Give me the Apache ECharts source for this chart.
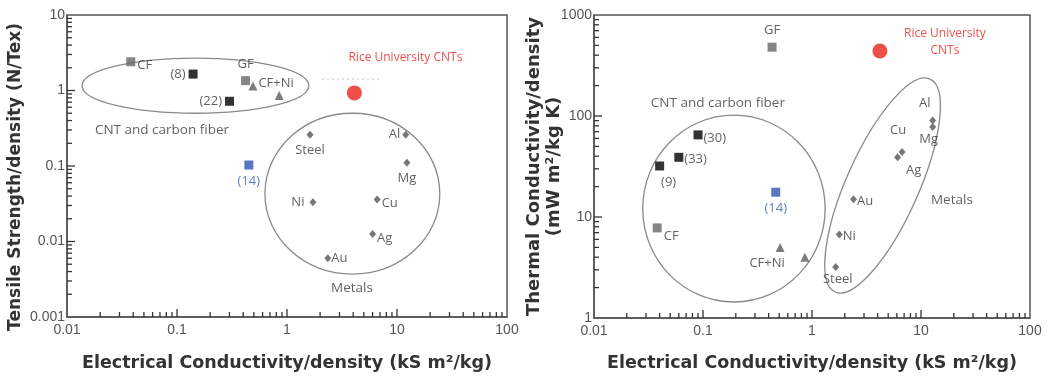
<!DOCTYPE html>
<html>
<head>
<meta charset="utf-8">
<script src="https://cdn.jsdelivr.net/npm/echarts@6/dist/echarts.min.js"></script>
<style>
html,body{margin:0;padding:0;background:#fff;}
#c{width:1047px;height:377px;}
</style>
</head>
<body>
<div id="c"></div>
<script>
// ---------- tick labels ----------
const xTickLabels = ['0.01', '0.1', '1', '10', '100'];
const yTickLabelsL = ['0.001', '0.01', '0.1', '1', '10'];
const yTickLabelsR = ['1', '10', '100', '1000'];
const minorMult = [2, 3, 4, 5, 6, 7, 8, 9];
const decadesX = [0.01, 0.1, 1, 10];
const decadesYL = [0.001, 0.01, 0.1, 1];
const decadesYR = [1, 10, 100];
const majorX = [0.1, 1, 10];
const majorYL = [0.01, 0.1, 1];
const majorYR = [10, 100];

// ---------- left chart: tensile strength / density ----------
const L_grayNames = ['CF', 'GF'];
const L_gray = [[0.038, 2.4], [0.42, 1.35]];
const L_blackNames = ['(8)', '(22)'];
const L_black = [[0.14, 1.65], [0.30, 0.72]];
const L_triNames = ['CF+Ni', ''];
const L_tri = [[0.49, 1.15], [0.85, 0.86]];
const L_blueNames = ['(14)'];
const L_blue = [[0.45, 0.103]];
const L_redNames = ['Rice University CNTs'];
const L_red = [[4.1, 0.93]];
const L_metalNames = ['Steel', 'Al', 'Mg', 'Ni', 'Cu', 'Ag', 'Au'];
const L_metal = [[1.62, 0.26], [12, 0.26], [12.3, 0.11], [1.72, 0.033], [6.6, 0.036], [6.0, 0.0126], [2.35, 0.006]];
const L_dotted = [[2.08, 1.42], [7.3, 1.42]];
// ellipse bounding boxes [xMin, yMin, xMax, yMax]
const L_ellipses = [[0.0137, 0.50, 1.58, 2.69], [0.63, 0.0037, 24.5, 0.50]];
const L_notesText = ['CNT and carbon fiber', 'Metals'];
const L_notes = [[0.073, 0.30], [3.9, 0.0024]];

// ---------- right chart: thermal conductivity / density ----------
const R_grayNames = ['GF', 'CF'];
const R_gray = [[0.43, 480], [0.038, 7.8]];
const R_blackNames = ['(30)', '(33)', '(9)'];
const R_black = [[0.09, 65], [0.06, 39], [0.04, 32]];
const R_triNames = ['CF+Ni', ''];
const R_tri = [[0.51, 5.0], [0.86, 4.0]];
const R_blueNames = ['(14)'];
const R_blue = [[0.465, 17.6]];
const R_redNames = ['Rice University\nCNTs'];
const R_red = [[4.2, 440]];
const R_metalNames = ['Al', 'Mg', 'Cu', 'Ag', 'Au', 'Ni', 'Steel'];
const R_metal = [[12.8, 90], [12.8, 78], [6.7, 44], [6.1, 39], [2.4, 15], [1.78, 6.7], [1.65, 3.2]];
// circle bounding box [xMin, yMin, xMax, yMax]
const R_circle = [[0.028, 1.44, 1.32, 102]];
// tilted ellipse: major axis end points [xTop, yTop, xBottom, yBottom]
const R_tilted = [[12.1, 232, 1.63, 1.81]];
const R_notesText = ['CNT and carbon fiber', 'Metals'];
const R_notes = [[0.137, 134], [19.2, 14.7]];

// ---------- label placement (styles) ----------
const labelPos = {
  L: {
    'CF': {position: 'right', offset: [-1, 4]},
    'GF': {position: 'top', offset: [0, 0]},
    '(8)': {position: 'left', offset: [0, 0]},
    '(22)': {position: 'left', offset: [0, 0]},
    'CF+Ni': {position: 'right', offset: [-2, -3]},
    '(14)': {position: 'bottom', offset: [0, 0]},
    'Rice University CNTs': {position: 'top', offset: [51, -16]},
    'Steel': {position: 'bottom', offset: [0, 0]},
    'Al': {position: 'left', offset: [1, 0]},
    'Mg': {position: 'bottom', offset: [0, 0]},
    'Ni': {position: 'left', offset: [-2, 0]},
    'Cu': {position: 'right', offset: [-2, 4]},
    'Ag': {position: 'right', offset: [-2, 4]},
    'Au': {position: 'right', offset: [-3, 0]}
  },
  R: {
    'GF': {position: 'top', offset: [0, -1]},
    'CF': {position: 'right', offset: [-1, 8]},
    '(30)': {position: 'right', offset: [-2, 3]},
    '(33)': {position: 'right', offset: [-2, 2]},
    '(9)': {position: 'bottom', offset: [9, 0]},
    'CF+Ni': {position: 'bottom', offset: [-13, 0]},
    '(14)': {position: 'bottom', offset: [0, 0]},
    'Rice University\nCNTs': {position: 'top', offset: [65, 19]},
    'Al': {position: 'top', offset: [-8, -2]},
    'Mg': {position: 'bottom', offset: [-4, -3]},
    'Cu': {position: 'top', offset: [-4, -6]},
    'Ag': {position: 'bottom', offset: [16, -3]},
    'Au': {position: 'right', offset: [-3, 2]},
    'Ni': {position: 'right', offset: [-3, 2]},
    'Steel': {position: 'bottom', offset: [2, -3]}
  }
};

const LBL_FONT = '"Open Sans", "Liberation Sans", sans-serif';
const TXT = '#3a3a3a';
const TICK_COLOR = '#333';

function pts(values, names, side, color, fs) {
  return values.map((v, i) => {
    const nm = names[i] || '';
    const p = labelPos[side][nm] || {position: 'right', offset: [0, 0]};
    return {
      value: v, name: nm,
      label: {show: nm !== '', formatter: nm, position: p.position, offset: p.offset,
               distance: 3, color: color || TXT, fontSize: fs || 13, fontFamily: LBL_FONT, lineHeight: 17}
    };
  });
}

function scatter(idx, values, names, side, symbol, size, color, lblColor, fs) {
  return {
    type: 'scatter', xAxisIndex: idx, yAxisIndex: idx, symbol: symbol, symbolSize: size,
    itemStyle: {color: color}, data: pts(values, names, side, lblColor, fs), z: 5, silent: true
  };
}

// log-axis ticks (majors + 2..9 minors of each decade), drawn inward from the axes' origin
function axisTicks(idx, xDecades, yDecades, xMajor, yMajor, origin) {
  const xs = [], ys = [];
  xDecades.forEach(d => minorMult.forEach(m => xs.push([d * m, 5])));
  yDecades.forEach(d => minorMult.forEach(m => ys.push([d * m, 5])));
  xMajor.forEach(v => xs.push([v, 8]));
  yMajor.forEach(v => ys.push([v, 8]));
  return {
    type: 'custom', xAxisIndex: idx, yAxisIndex: idx, silent: true, clip: false, z: 20, zlevel: 1,
    data: [origin],
    renderItem: function (params, api) {
      const ox = api.value(0), oy = api.value(1);
      const children = [];
      xs.forEach(t => {
        const p = api.coord([t[0], oy]);
        children.push({type: 'line', shape: {x1: p[0], y1: p[1], x2: p[0], y2: p[1] - t[1]},
          style: {stroke: TICK_COLOR, lineWidth: 1.3}});
      });
      ys.forEach(t => {
        const p = api.coord([ox, t[0]]);
        children.push({type: 'line', shape: {x1: p[0], y1: p[1], x2: p[0] + t[1], y2: p[1]},
          style: {stroke: TICK_COLOR, lineWidth: 1.3}});
      });
      return {type: 'group', children: children};
    }
  };
}

function bboxEllipses(idx, boxes) {
  return {
    type: 'custom', xAxisIndex: idx, yAxisIndex: idx, silent: true, clip: false, z: 2,
    data: boxes,
    renderItem: function (params, api) {
      const a = api.coord([api.value(0), api.value(1)]);
      const b = api.coord([api.value(2), api.value(3)]);
      return {
        type: 'ellipse',
        shape: {cx: (a[0] + b[0]) / 2, cy: (a[1] + b[1]) / 2, rx: Math.abs(b[0] - a[0]) / 2, ry: Math.abs(b[1] - a[1]) / 2},
        style: {fill: 'none', stroke: '#8a8a8a', lineWidth: 1.3}
      };
    }
  };
}

function tiltedEllipse(idx, axes, ratio) {
  return {
    type: 'custom', xAxisIndex: idx, yAxisIndex: idx, silent: true, clip: false, z: 2,
    data: axes,
    renderItem: function (params, api) {
      const t = api.coord([api.value(0), api.value(1)]);
      const bt = api.coord([api.value(2), api.value(3)]);
      const cx = (t[0] + bt[0]) / 2, cy = (t[1] + bt[1]) / 2;
      const len = Math.hypot(t[0] - bt[0], t[1] - bt[1]) / 2;
      const ang = Math.atan2(t[0] - bt[0], bt[1] - t[1]);
      return {
        type: 'ellipse',
        shape: {cx: 0, cy: 0, rx: len * ratio, ry: len},
        x: cx, y: cy, rotation: -ang,
        style: {fill: 'none', stroke: '#8a8a8a', lineWidth: 1.3}
      };
    }
  };
}

function notes(idx, values, texts) {
  return {
    type: 'scatter', xAxisIndex: idx, yAxisIndex: idx, symbolSize: 1, silent: true,
    itemStyle: {color: 'rgba(0,0,0,0)'},
    data: values.map((v, i) => ({value: v, label: {show: true, formatter: texts[i], position: 'inside',
      color: TXT, fontSize: 13.5, fontFamily: LBL_FONT}}))
  };
}

function tickLabelFmt(labels, minExp) {
  return function (v) {
    const k = Math.round(Math.log10(v)) - minExp;
    return labels[k] !== undefined ? labels[k] : '';
  };
}

const TICK_FONT = '"Liberation Sans", Arial, sans-serif';
const TITLE_FONT = '"DejaVu Sans", "Liberation Sans", sans-serif';
const axisCommon = {
  type: 'log', logBase: 10,
  axisLine: {show: true, lineStyle: {color: '#555', width: 1.5}},
  axisTick: {show: false},
  splitLine: {show: false},
  minorTick: {show: false},
  nameMoveOverlap: false,
  nameTextStyle: {fontFamily: TITLE_FONT, fontWeight: 'bold', fontSize: 17.5, color: '#333'}
};

const xTitle = 'Electrical Conductivity/density (kS m²/kg)';

const option = {
  animation: false,
  backgroundColor: '#fff',
  grid: [
    {left: 67, right: 540, top: 15, bottom: 60, show: true, borderColor: '#555', borderWidth: 1.5, backgroundColor: 'transparent'},
    {left: 594, right: 17, top: 15, bottom: 58, show: true, borderColor: '#555', borderWidth: 1.5, backgroundColor: 'transparent'}
  ],
  xAxis: [
    Object.assign({}, axisCommon, {gridIndex: 0, min: 0.01, max: 100, name: xTitle, nameLocation: 'middle', nameGap: 37,
      axisLabel: {formatter: tickLabelFmt(xTickLabels, -2), fontSize: 14, color: '#555', fontFamily: TICK_FONT, margin: 6}}),
    Object.assign({}, axisCommon, {gridIndex: 1, min: 0.01, max: 100, name: xTitle, nameLocation: 'middle', nameGap: 36,
      axisLabel: {formatter: tickLabelFmt(xTickLabels, -2), fontSize: 14, color: '#555', fontFamily: TICK_FONT, margin: 6}})
  ],
  yAxis: [
    Object.assign({}, axisCommon, {gridIndex: 0, min: 0.001, max: 10, name: 'Tensile Strength/density (N/Tex)', nameLocation: 'middle', nameGap: 43,
      nameTextStyle: {fontFamily: TITLE_FONT, fontWeight: 'bold', fontSize: 17, color: '#333', padding: [0, 22, 0, 0]},
      axisLabel: {formatter: tickLabelFmt(yTickLabelsL, -3), fontSize: 14, color: '#555', fontFamily: TICK_FONT, margin: 2}}),
    Object.assign({}, axisCommon, {gridIndex: 1, min: 1, max: 1000, name: 'Thermal Conductivity/density\n(mW m²/kg K)', nameLocation: 'middle', nameGap: 30,
      nameTextStyle: {fontFamily: TITLE_FONT, fontWeight: 'bold', fontSize: 18, color: '#333', lineHeight: 20},
      axisLabel: {formatter: tickLabelFmt(yTickLabelsR, 0), fontSize: 14, color: '#555', fontFamily: TICK_FONT, margin: 2}})
  ],
  series: [
    // left
    bboxEllipses(0, L_ellipses),
    axisTicks(0, decadesX, decadesYL, majorX, majorYL, [0.01, 0.001]),
    {type: 'line', xAxisIndex: 0, yAxisIndex: 0, data: L_dotted, symbol: 'none', silent: true,
      lineStyle: {color: '#b9c3d6', width: 1.2, type: [2, 3]}},
    notes(0, L_notes, L_notesText),
    scatter(0, L_gray, L_grayNames, 'L', 'rect', 9, '#666'),
    scatter(0, L_black, L_blackNames, 'L', 'rect', 9, '#000'),
    scatter(0, L_tri, L_triNames, 'L', 'triangle', 9, '#5a5a5a'),
    scatter(0, L_metal, L_metalNames, 'L', 'diamond', [7, 8], '#555'),
    scatter(0, L_blue, L_blueNames, 'L', 'rect', 9, '#2f55b0', '#3a5cb8'),
    scatter(0, L_red, L_redNames, 'L', 'circle', 15, '#e8231c', '#e8231c', 12),
    // right
    bboxEllipses(1, R_circle),
    tiltedEllipse(1, R_tilted, 0.31),
    axisTicks(1, decadesX, decadesYR, majorX, majorYR, [0.01, 1]),
    notes(1, R_notes, R_notesText),
    scatter(1, R_gray, R_grayNames, 'R', 'rect', 9, '#666'),
    scatter(1, R_black, R_blackNames, 'R', 'rect', 9, '#000'),
    scatter(1, R_tri, R_triNames, 'R', 'triangle', 9, '#5a5a5a'),
    scatter(1, R_metal, R_metalNames, 'R', 'diamond', [7, 8], '#555'),
    scatter(1, R_blue, R_blueNames, 'R', 'rect', 9, '#2f55b0', '#3a5cb8'),
    scatter(1, R_red, R_redNames, 'R', 'circle', 15, '#e8231c', '#e8231c', 12)
  ]
};

const chart = echarts.init(document.getElementById('c'), null, {renderer: 'canvas'});
chart.setOption(option);
</script>
</body>
</html>
